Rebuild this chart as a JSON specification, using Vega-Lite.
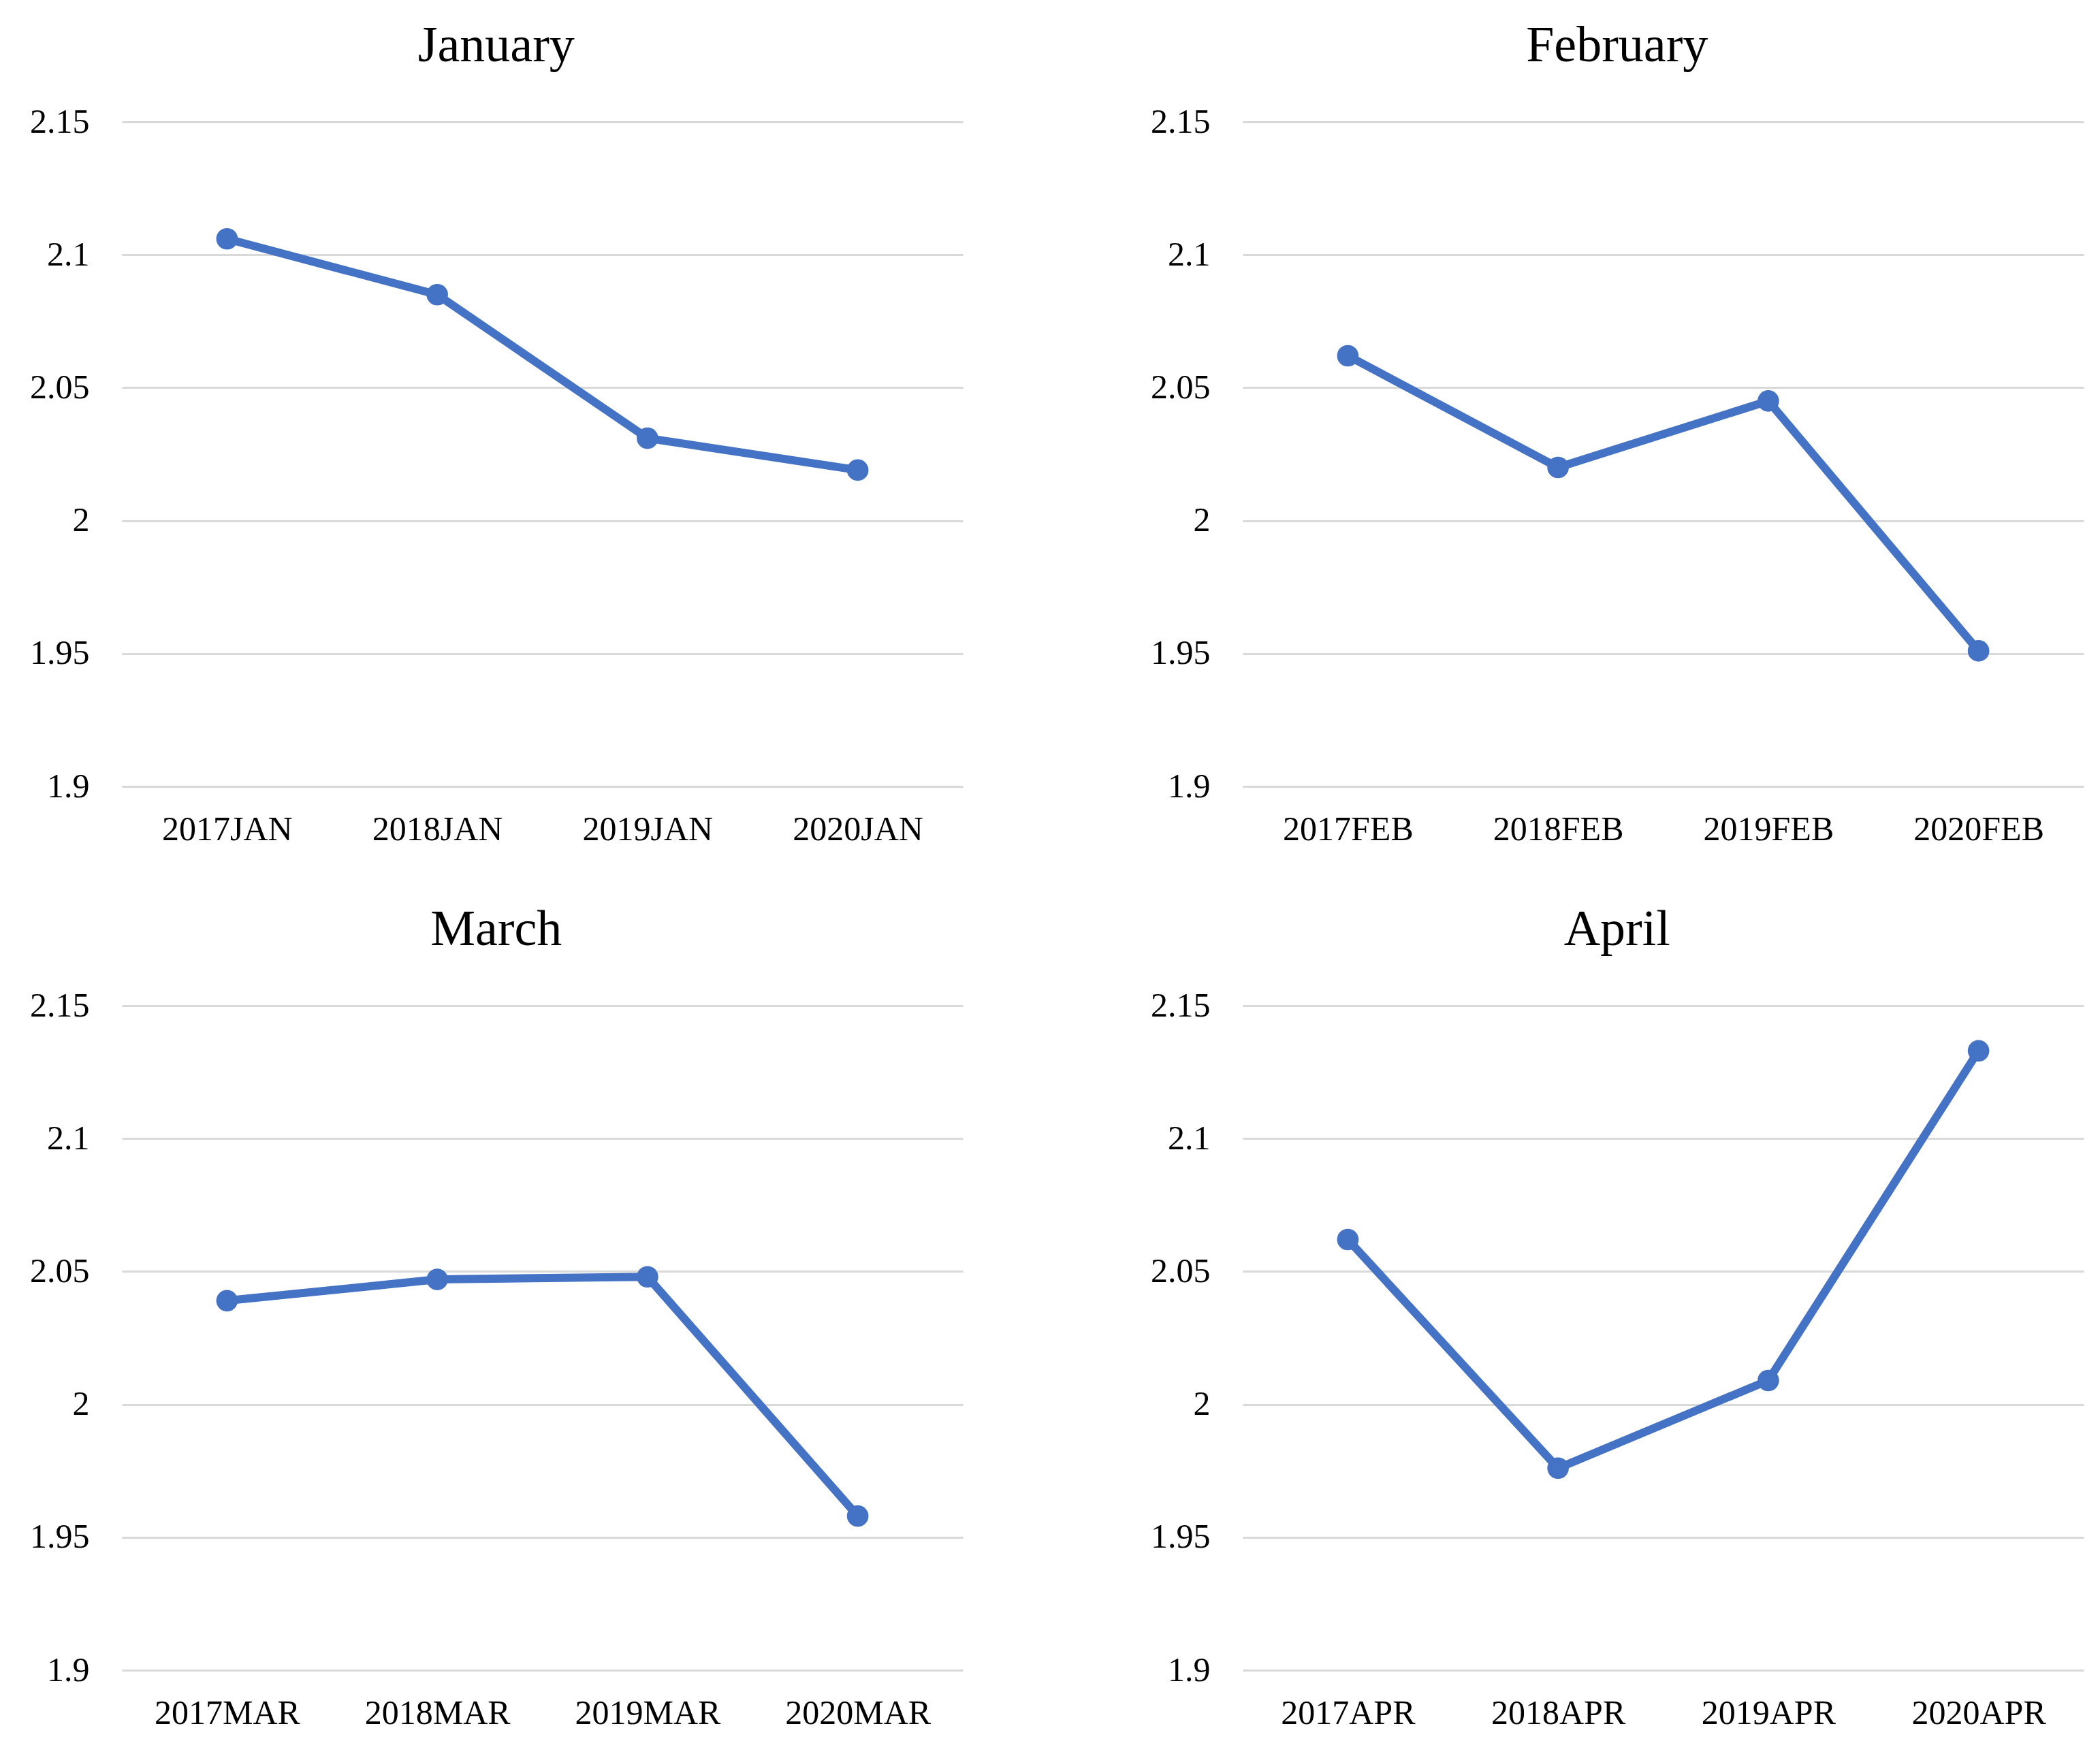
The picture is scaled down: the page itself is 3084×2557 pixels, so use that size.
{
  "$schema": "https://vega.github.io/schema/vega-lite/v6.json",
  "background": "white",
  "padding": {"left": 43, "top": 31, "right": 20, "bottom": 10},
  "bounds": "flush",
  "columns": 2,
  "spacing": {"row": 322, "column": 411},
  "data": {
    "values": [
      {"month": "January", "period": "2017JAN", "value": 2.106},
      {"month": "January", "period": "2018JAN", "value": 2.085},
      {"month": "January", "period": "2019JAN", "value": 2.031},
      {"month": "January", "period": "2020JAN", "value": 2.019},
      {"month": "February", "period": "2017FEB", "value": 2.062},
      {"month": "February", "period": "2018FEB", "value": 2.020},
      {"month": "February", "period": "2019FEB", "value": 2.045},
      {"month": "February", "period": "2020FEB", "value": 1.951},
      {"month": "March", "period": "2017MAR", "value": 2.039},
      {"month": "March", "period": "2018MAR", "value": 2.047},
      {"month": "March", "period": "2019MAR", "value": 2.048},
      {"month": "March", "period": "2020MAR", "value": 1.958},
      {"month": "April", "period": "2017APR", "value": 2.062},
      {"month": "April", "period": "2018APR", "value": 1.976},
      {"month": "April", "period": "2019APR", "value": 2.009},
      {"month": "April", "period": "2020APR", "value": 2.133}
    ]
  },
  "concat": [
    {
      "title": {"text": "January"},
      "width": 1235, "height": 976,
      "transform": [{"filter": "datum.month === 'January'"}],
      "encoding": {
        "x": {"field": "period", "type": "ordinal", "sort": null, "scale": {"type": "point", "padding": 0.5}, "axis": {"title": null, "labelAngle": 0, "grid": false}},
        "y": {"field": "value", "type": "quantitative", "scale": {"domain": [1.9, 2.15], "zero": false, "nice": false}, "axis": {"title": null, "values": [1.9, 1.95, 2, 2.05, 2.1, 2.15], "format": "~g"}}
      },
      "layer": [
        {"mark": {"type": "line", "color": "#4472C4", "strokeWidth": 12}},
        {"mark": {"type": "point", "filled": true, "size": 1000, "color": "#4472C4", "opacity": 1}}
      ]
    },
    {
      "title": {"text": "February"},
      "width": 1235, "height": 976,
      "transform": [{"filter": "datum.month === 'February'"}],
      "encoding": {
        "x": {"field": "period", "type": "ordinal", "sort": null, "scale": {"type": "point", "padding": 0.5}, "axis": {"title": null, "labelAngle": 0, "grid": false}},
        "y": {"field": "value", "type": "quantitative", "scale": {"domain": [1.9, 2.15], "zero": false, "nice": false}, "axis": {"title": null, "values": [1.9, 1.95, 2, 2.05, 2.1, 2.15], "format": "~g"}}
      },
      "layer": [
        {"mark": {"type": "line", "color": "#4472C4", "strokeWidth": 12}},
        {"mark": {"type": "point", "filled": true, "size": 1000, "color": "#4472C4", "opacity": 1}}
      ]
    },
    {
      "title": {"text": "March"},
      "width": 1235, "height": 976,
      "transform": [{"filter": "datum.month === 'March'"}],
      "encoding": {
        "x": {"field": "period", "type": "ordinal", "sort": null, "scale": {"type": "point", "padding": 0.5}, "axis": {"title": null, "labelAngle": 0, "grid": false}},
        "y": {"field": "value", "type": "quantitative", "scale": {"domain": [1.9, 2.15], "zero": false, "nice": false}, "axis": {"title": null, "values": [1.9, 1.95, 2, 2.05, 2.1, 2.15], "format": "~g"}}
      },
      "layer": [
        {"mark": {"type": "line", "color": "#4472C4", "strokeWidth": 12}},
        {"mark": {"type": "point", "filled": true, "size": 1000, "color": "#4472C4", "opacity": 1}}
      ]
    },
    {
      "title": {"text": "April"},
      "width": 1235, "height": 976,
      "transform": [{"filter": "datum.month === 'April'"}],
      "encoding": {
        "x": {"field": "period", "type": "ordinal", "sort": null, "scale": {"type": "point", "padding": 0.5}, "axis": {"title": null, "labelAngle": 0, "grid": false}},
        "y": {"field": "value", "type": "quantitative", "scale": {"domain": [1.9, 2.15], "zero": false, "nice": false}, "axis": {"title": null, "values": [1.9, 1.95, 2, 2.05, 2.1, 2.15], "format": "~g"}}
      },
      "layer": [
        {"mark": {"type": "line", "color": "#4472C4", "strokeWidth": 12}},
        {"mark": {"type": "point", "filled": true, "size": 1000, "color": "#4472C4", "opacity": 1}}
      ]
    }
  ],
  "config": {
    "font": "Liberation Serif",
    "view": {"stroke": null},
    "axis": {
      "labelFont": "Liberation Serif",
      "labelFontSize": 50,
      "labelColor": "#000000",
      "labelLimit": 0,
      "ticks": false,
      "domain": false,
      "gridColor": "#d9d9d9",
      "gridWidth": 3
    },
    "axisX": {"labelPadding": 38},
    "axisY": {"labelPadding": 48},
    "title": {
      "font": "Liberation Serif",
      "fontSize": 74,
      "fontWeight": "normal",
      "color": "#000000",
      "anchor": "middle",
      "frame": "bounds",
      "baseline": "alphabetic",
      "offset": 48
    }
  }
}
